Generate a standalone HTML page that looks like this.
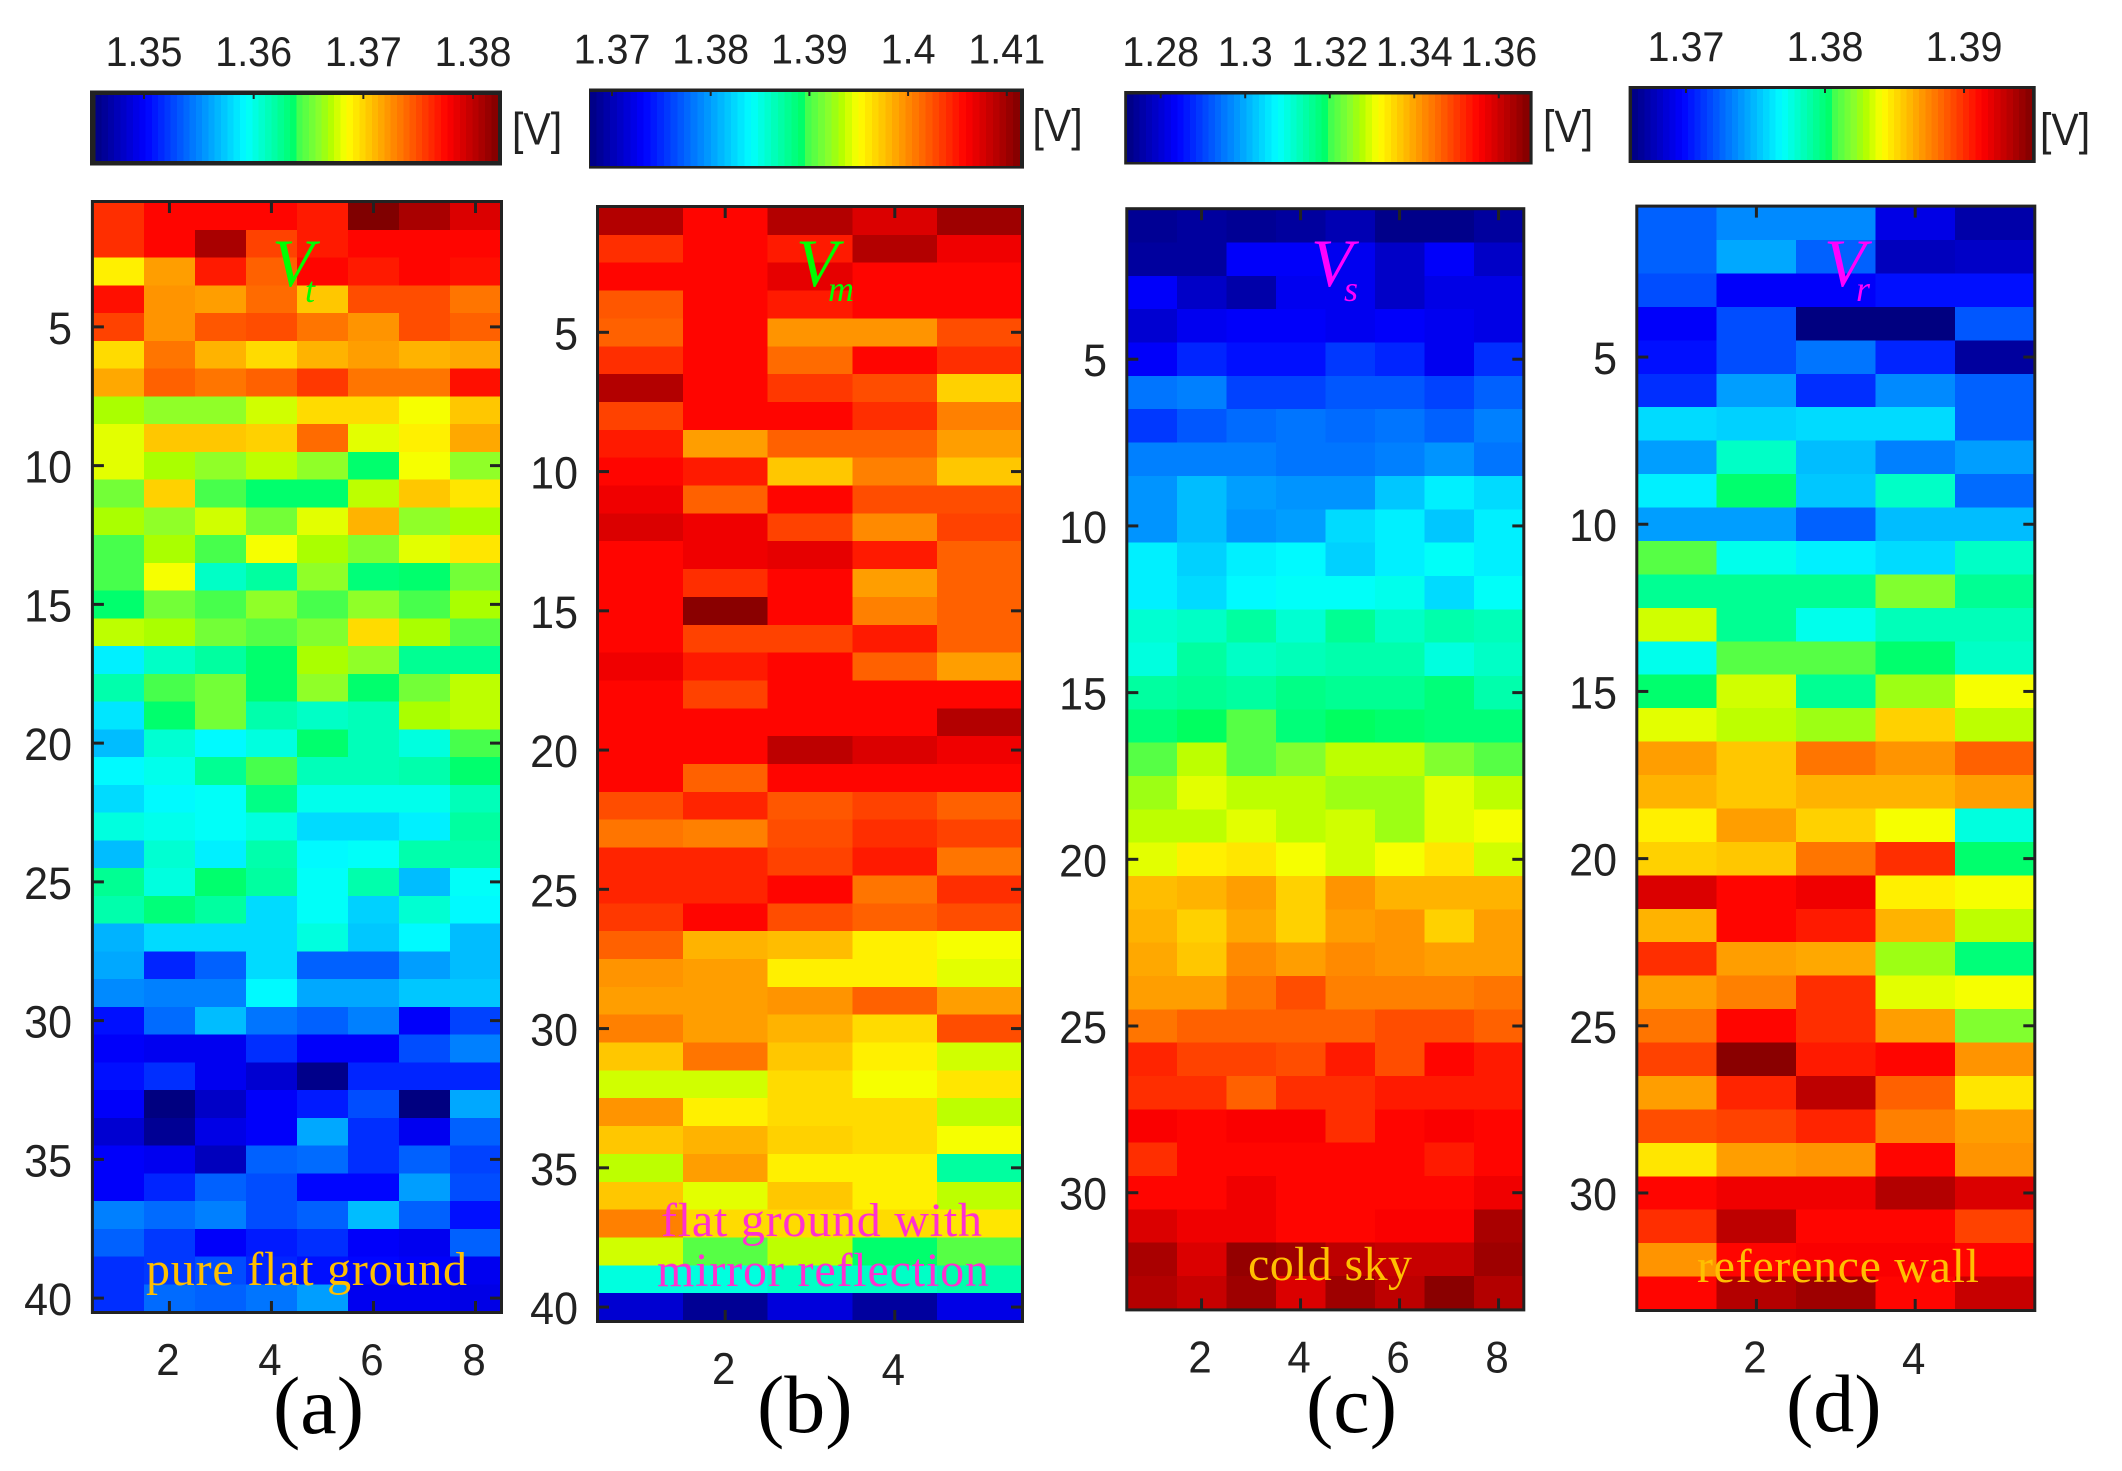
<!DOCTYPE html>
<html lang="en">
<head>
<meta charset="utf-8">
<title>Voltage heatmaps</title>
<style>
html,body{margin:0;padding:0;background:#fff;width:2122px;height:1471px;overflow:hidden}
svg{display:block}
text{font-family:"Liberation Sans",sans-serif}
.serif{font-family:"Liberation Serif",serif}
</style>
</head>
<body>
<svg id="figure" xmlns="http://www.w3.org/2000/svg" width="2122" height="1471" viewBox="0 0 2122 1471">
  <g id="layer-plots"></g>
  <g class="serif">
    <text class="serif" x="272" y="286" font-size="68" font-style="italic" fill="#00ff00">V</text>
    <text class="serif" x="305" y="302" font-size="36" font-style="italic" fill="#00ff00">t</text>
    <text class="serif" x="796" y="286" font-size="68" font-style="italic" fill="#00ff00">V</text>
    <text class="serif" x="828" y="301" font-size="36" font-style="italic" fill="#00ff00">m</text>
    <text class="serif" x="1311" y="286" font-size="68" font-style="italic" fill="#ff00ff">V</text>
    <text class="serif" x="1344" y="301" font-size="36" font-style="italic" fill="#ff00ff">s</text>
    <text class="serif" x="1824" y="286" font-size="68" font-style="italic" fill="#ff00ff">V</text>
    <text class="serif" x="1856" y="301" font-size="36" font-style="italic" fill="#ff00ff">r</text>
    <text class="serif" x="146" y="1285" font-size="48" fill="#ffbf00" textLength="321" lengthAdjust="spacing">pure flat ground</text>
    <text class="serif" x="661" y="1236" font-size="48" fill="#ff30d0" textLength="321" lengthAdjust="spacing">flat ground with</text>
    <text class="serif" x="657" y="1286" font-size="48" fill="#ff30d0" textLength="332" lengthAdjust="spacing">mirror reflection</text>
    <text class="serif" x="1248" y="1280" font-size="48" fill="#ffbf00" textLength="164" lengthAdjust="spacing">cold sky</text>
    <text class="serif" x="1697" y="1282" font-size="48" fill="#ffbf00" textLength="282" lengthAdjust="spacing">reference wall</text>
    <text class="serif" x="273" y="1433" font-size="82" fill="#000">(a)</text>
    <text class="serif" x="757" y="1432" font-size="82" fill="#000">(b)</text>
    <text class="serif" x="1306" y="1432" font-size="82" fill="#000">(c)</text>
    <text class="serif" x="1786" y="1431" font-size="82" fill="#000">(d)</text>
  </g>
</svg>
<script>
// Cell values: position on each panel's colour scale, in percent of [vmin, vmax].
const levelsA = [
[83,87,87,87,85,100,96,91],
[83,87,96,81,85,87,87,87],
[64,72,85,78,87,85,87,86],
[86,73,72,77,68,80,80,76],
[81,73,79,80,76,73,80,78],
[66,76,70,66,70,72,70,71],
[71,78,76,78,82,76,76,86],
[58,56,56,60,66,66,62,68],
[61,68,68,67,77,61,64,71],
[61,58,56,59,56,49,62,56],
[54,67,51,49,49,59,68,65],
[58,56,60,54,61,70,56,58],
[51,58,51,62,58,55,61,65],
[51,62,42,45,56,48,49,54],
[49,54,51,56,51,56,51,58],
[59,58,54,52,55,66,58,52],
[36,42,45,49,58,56,46,46],
[44,51,54,49,56,49,54,59],
[35,49,54,44,42,43,58,59],
[31,41,37,40,49,43,40,51],
[37,39,46,51,43,43,44,49],
[34,37,38,47,39,39,39,43],
[40,39,38,40,34,34,36,45],
[31,41,36,44,37,38,44,44],
[46,40,49,45,38,44,31,38],
[44,48,45,34,38,33,41,37],
[30,34,34,34,40,32,37,31],
[29,16,22,34,22,22,28,31],
[26,25,25,37,29,29,32,32],
[14,23,31,24,22,25,12,19],
[12,11,11,17,12,12,20,25],
[14,17,11,8,1,16,16,16],
[12,0,7,12,15,20,0,29],
[8,2,10,12,29,17,11,22],
[12,11,6,22,23,17,22,19],
[12,16,22,20,13,13,28,20],
[25,23,25,20,22,31,22,14],
[22,18,12,15,17,12,11,22],
[17,18,20,16,14,13,12,11],
[17,23,22,24,28,11,11,10]
];
const levelsB = [
[95,87,95,91,97],
[83,87,85,95,89],
[87,87,90,87,87],
[79,87,85,87,87],
[78,87,73,73,80],
[83,87,77,87,83],
[95,87,82,80,67],
[81,87,87,83,75],
[85,72,78,78,72],
[87,85,68,75,68],
[89,78,87,80,80],
[91,89,81,74,81],
[87,89,90,85,78],
[87,83,87,72,78],
[87,99,87,75,78],
[87,81,81,85,78],
[89,85,87,78,72],
[87,81,87,87,87],
[87,87,87,87,95],
[87,87,94,91,89],
[87,78,87,87,87],
[80,84,79,81,78],
[76,75,80,83,81],
[84,84,81,85,76],
[84,84,87,76,83],
[82,87,80,78,80],
[78,70,69,64,62],
[73,72,64,64,61],
[72,72,73,78,72],
[75,72,70,66,80],
[68,76,68,64,60],
[60,60,66,62,65],
[73,64,66,66,59],
[68,70,67,66,62],
[59,72,64,64,45],
[68,61,68,64,59],
[75,66,66,66,65],
[60,52,59,49,52],
[40,40,42,42,44],
[8,2,9,3,10]
];
const levelsC = [
[2,3,2,3,5,1,1,3],
[3,3,12,12,11,7,12,7],
[12,7,4,11,11,7,10,10],
[8,11,12,12,11,12,11,10],
[12,16,14,14,18,16,11,17],
[24,25,19,19,21,21,19,22],
[18,21,23,24,23,24,22,25],
[25,25,25,24,24,25,27,24],
[27,31,28,27,27,32,36,34],
[27,31,27,28,34,36,32,36],
[36,33,36,37,33,36,38,36],
[36,34,37,38,38,39,34,38],
[41,42,45,41,46,42,44,43],
[40,45,42,43,44,44,40,42],
[45,46,45,47,46,46,48,44],
[48,50,52,48,50,49,48,48],
[52,59,52,55,59,59,55,52],
[57,61,59,59,57,57,61,59],
[59,59,61,59,60,57,61,62],
[61,64,65,62,60,62,65,60],
[69,70,72,67,73,70,70,70],
[70,67,71,67,72,73,67,72],
[71,68,74,72,74,73,72,72],
[72,72,76,80,75,75,75,76],
[76,78,78,78,78,80,80,78],
[84,81,81,80,85,80,87,85],
[83,83,78,83,83,85,85,85],
[88,87,88,88,83,87,88,87],
[83,87,87,87,87,87,85,87],
[87,87,89,87,87,87,87,89],
[91,89,89,87,87,88,88,96],
[96,91,98,97,94,93,93,97],
[95,93,97,91,97,94,99,95]
];
const levelsD = [
[22,26,26,10,4],
[22,29,22,6,7],
[20,12,12,14,14],
[12,20,0,0,21],
[14,20,24,16,3],
[17,28,17,26,22],
[34,33,34,34,22],
[28,42,31,25,28],
[36,49,32,42,23],
[28,28,22,31,31],
[52,39,36,34,42],
[46,46,46,55,46],
[60,46,39,43,43],
[39,52,52,49,42],
[49,60,46,57,62],
[61,59,57,67,59],
[72,68,76,73,78],
[70,68,70,70,72],
[64,72,67,62,40],
[67,68,76,83,49],
[91,87,89,64,62],
[70,87,85,70,59],
[83,72,71,57,48],
[72,75,83,61,62],
[76,87,83,72,55],
[81,99,85,87,73],
[72,84,94,78,65],
[80,81,84,75,72],
[65,72,73,87,73],
[87,89,89,95,91],
[83,94,87,87,81],
[73,87,88,88,87],
[87,95,97,87,93]
];

const xTicksA = [2,4,6,8];
const xTicksB = [2,4];
const xTicksC = [2,4,6,8];
const xTicksD = [2,4];
const yTicksAB = [5,10,15,20,25,30,35,40];
const yTicksCD = [5,10,15,20,25,30];
const barTicksA = [1.35,1.36,1.37,1.38];
const barTicksB = [1.37,1.38,1.39,1.4,1.41];
const barTicksC = [1.28,1.3,1.32,1.34,1.36];
const barTicksD = [1.37,1.38,1.39];
const barRangeA = [1.34556,1.38224];
const barRangeB = [1.36777,1.4113];
const barRangeC = [1.27203,1.36715];
const barRangeD = [1.36612,1.39486];

const panels = [
 {id:'a',levels:levelsA,xt:xTicksA,yt:yTicksAB,bt:barTicksA,range:barRangeA,
  box:{l:92.9,r:501,t:202,b:1312},labelRight:72,xLabelY:[1375,1375,1375,1375],
  bar:{ol:90,or:502,ot:90.5,ob:165.5,il:95.3,ir:497.6,it:95,ib:161,labelY:66,vX:512,vY:144.6}},
 {id:'b',levels:levelsB,xt:xTicksB,yt:yTicksAB,bt:barTicksB,range:barRangeB,
  box:{l:598,r:1022,t:207,b:1321},labelRight:578,xLabelY:[1384,1385],
  bar:{ol:589,or:1024,ot:88.5,ob:168.6,il:590,ir:1019.6,it:92,ib:166,labelY:63.5,vX:1032.5,vY:141}},
 {id:'c',levels:levelsC,xt:xTicksC,yt:yTicksCD,bt:barTicksC,range:barRangeC,
  box:{l:1127.3,r:1523.3,t:209.2,b:1309.4},labelRight:1107,xLabelY:[1372.5,1372.5,1372.5,1372.5],
  bar:{ol:1124.2,or:1532.6,ot:91,ob:164.5,il:1127,ir:1529,it:94.3,ib:162,labelY:66,vX:1543,vY:142}},
 {id:'d',levels:levelsD,xt:xTicksD,yt:yTicksCD,bt:barTicksD,range:barRangeD,
  box:{l:1637.3,r:2034.3,t:206.6,b:1310},labelRight:1617,xLabelY:[1372.5,1374],
  bar:{ol:1628.6,or:2035.7,ot:86,ob:163,il:1632,ir:2031.6,it:89,ib:160,labelY:61,vX:2040,vY:145}}
];

const colourStops = [
 [0,0,0,128],[12.5,0,0,255],[37.5,0,255,255],[50,0,255,96],[50.5,64,255,80],
 [56,144,255,40],[58,170,255,0],[62.5,255,255,0],[87.5,255,0,0],[100,128,0,0]
];
function colourOf(p){
  p=Math.max(0,Math.min(100,p));
  for(let i=1;i<colourStops.length;i++){
    const a=colourStops[i-1],b=colourStops[i];
    if(p<=b[0]){
      const t=(p-a[0])/(b[0]-a[0]);
      return 'rgb('+[1,2,3].map(k=>Math.round(a[k]+(b[k]-a[k])*t)).join(',')+')';
    }
  }
  return 'rgb(128,0,0)';
}

const SVGNS='http://www.w3.org/2000/svg';
const INK='#222';
const root=document.getElementById('layer-plots');
function mk(parent,tag,attrs){
  const el=document.createElementNS(SVGNS,tag);
  for(const k in attrs)el.setAttribute(k,attrs[k]);
  parent.appendChild(el);
  return el;
}
function tickText(parent,str,x,y,anchor,size,sy){
  const el=mk(parent,'text',{transform:'translate('+x+','+y+') scale(1,'+sy+')','text-anchor':anchor,'font-size':size,fill:INK});
  el.textContent=str;
  return el;
}

panels.forEach(function(p){
  const g=mk(root,'g',{});
  
  
  const rows=p.levels.length,cols=p.levels[0].length,b=p.box;
  // axis functions: data coordinate (1-based column / row) to pixels
  const xOf=c=>b.l+(c-0.5)*(b.r-b.l)/cols;
  const yOf=r=>b.t+(r-0.5)*(b.b-b.t)/rows;

  // heatmap cells
  p.levels.forEach(function(row,ri){
    row.forEach(function(val,ci){
      const x0=xOf(ci+0.5),x1=xOf(ci+1.5),y0=yOf(ri+0.5),y1=yOf(ri+1.5);
      const cell=mk(g,'rect',{x:x0,y:y0,width:x1-x0,height:y1-y0,fill:colourOf(val),'shape-rendering':'crispEdges'});
      
      
    });
  });

  // frame
  const frame=mk(g,'rect',{x:b.l-0.5,y:b.t-0.5,width:b.r-b.l+1,height:b.b-b.t+1,fill:'none',stroke:INK,'stroke-width':3});
  
  

  // x ticks
  p.xt.forEach(function(t,i){
    const x=xOf(t);
    const top=mk(g,'line',{x1:x,x2:x,y1:b.t,y2:b.t+11,stroke:INK,'stroke-width':3});
    
    
    const bot=mk(g,'line',{x1:x,x2:x,y1:b.b,y2:b.b-11,stroke:INK,'stroke-width':3});
    
    
    const lab=tickText(g,String(t),x-1.5,p.xLabelY[i],'middle',42,1.05);
    
    
  });

  // y ticks
  p.yt.forEach(function(t){
    const y=yOf(t);
    const left=mk(g,'line',{x1:b.l,x2:b.l+11,y1:y,y2:y,stroke:INK,'stroke-width':3});
    
    
    const right=mk(g,'line',{x1:b.r,x2:b.r-11,y1:y,y2:y,stroke:INK,'stroke-width':3});
    
    
    const lab=tickText(g,String(t),p.labelRight,y+17,'end',43,1.05);
    
    
  });

  // colour bar
  const bar=p.bar;
  const cb=mk(g,'g',{});
  
  
  const cbFrame=mk(cb,'rect',{x:bar.ol,y:bar.ot,width:bar.or-bar.ol,height:bar.ob-bar.ot,fill:INK});
  
  
  const LEVELS=64,w=(bar.ir-bar.il)/LEVELS;
  for(let i=0;i<LEVELS;i++){
    const s=mk(cb,'rect',{x:bar.il+i*w,y:bar.it,width:w+0.5,height:bar.ib-bar.it,fill:colourOf((i+0.5)/LEVELS*100),'shape-rendering':'crispEdges'});
    
    
  }
  const vx=v=>bar.il+(v-p.range[0])/(p.range[1]-p.range[0])*(bar.ir-bar.il);
  p.bt.forEach(function(v){
    const x=vx(v);
    const tick=mk(cb,'line',{x1:x,x2:x,y1:bar.it,y2:bar.it+4,stroke:INK,'stroke-width':2});
    
    
    const lab=tickText(cb,String(v),x,bar.labelY,'middle',39.5,1.05);
    
    
  });
  const unit=tickText(cb,'[V]',bar.vX,bar.vY,'start',41,1.1);
  
  
});
</script>
</body>
</html>
